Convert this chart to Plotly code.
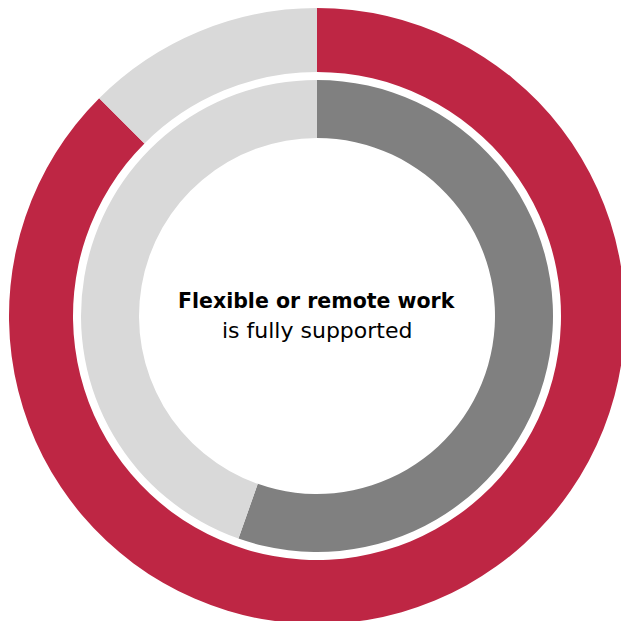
import plotly.graph_objects as go

# outer ring: share of respondents
outer_labels = ["Fully supported", "Other"]
outer_values = [87.5, 12.5]
outer_colors = ["#BE2644", "#D9D9D9"]

# inner ring
inner_labels = ["Fully supported", "Other"]
inner_values = [55.4, 44.6]
inner_colors = ["#808080", "#D9D9D9"]

W, H = 634, 632
CX, CY = 317, 316          # centre in px from top-left
R_OUT, R_OUT_IN = 308, 244
R_IN, R_IN_HOLE = 236, 178


def dom(r):
    x = [(CX - r) / W, (CX + r) / W]
    yc = 1 - CY / H
    y = [yc - r / H, yc + r / H]
    return dict(x=x, y=y)


fig = go.Figure()
fig.add_trace(go.Pie(
    labels=outer_labels, values=outer_values,
    marker=dict(colors=outer_colors, line=dict(width=0)),
    hole=R_OUT_IN / R_OUT, sort=False, direction="clockwise", rotation=0,
    textinfo="none", hoverinfo="label+value", domain=dom(R_OUT),
))
fig.add_trace(go.Pie(
    labels=inner_labels, values=inner_values,
    marker=dict(colors=inner_colors, line=dict(width=0)),
    hole=R_IN_HOLE / R_IN, sort=False, direction="clockwise", rotation=0,
    textinfo="none", hoverinfo="label+value", domain=dom(R_IN),
))

fig.add_annotation(
    text="<b>Flexible or remote work</b>", x=CX / W, y=1 - 301 / H,
    xref="paper", yref="paper", showarrow=False,
    font=dict(family="DejaVu Sans", size=20.5, color="#000000"),
)
fig.add_annotation(
    text="is fully supported", x=CX / W, y=1 - 330 / H,
    xref="paper", yref="paper", showarrow=False,
    font=dict(family="DejaVu Sans", size=22, color="#000000"),
)

fig.update_layout(
    width=W, height=H,
    margin=dict(l=0, r=0, t=0, b=0),
    showlegend=False,
    paper_bgcolor="white",
    plot_bgcolor="white",
)
fig.write_html(
    "out.html",
    config={"displayModeBar": False},
    post_script="document.body.style.margin='0';"
                "document.documentElement.style.overflow='hidden';",
)
